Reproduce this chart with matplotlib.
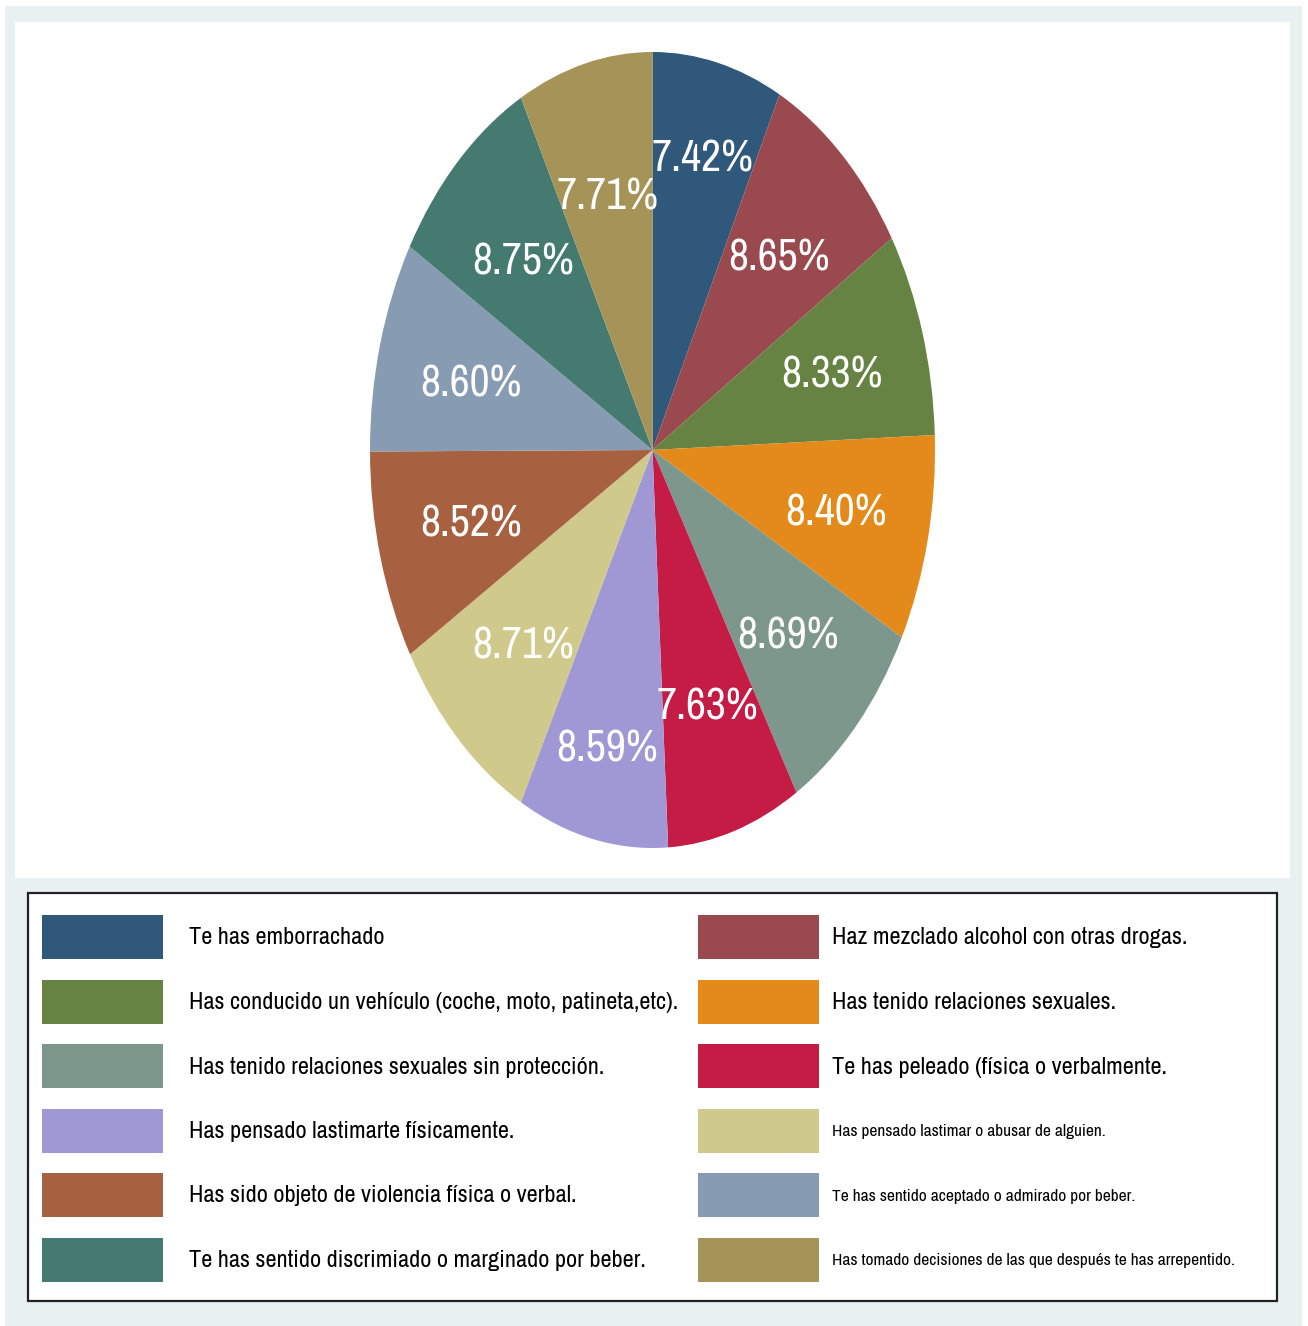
import numpy as np
import matplotlib
matplotlib.use("Agg")
import matplotlib.pyplot as plt
from matplotlib.patches import Rectangle

plt.rcParams['font.family'] = ['Liberation Sans Narrow', 'Archivo Narrow', 'Roboto Condensed',
                               'PT Sans Narrow', 'DejaVu Sans']

labels = [
    "Te has emborrachado",
    "Haz mezclado alcohol con otras drogas.",
    "Has conducido un vehículo (coche, moto, patineta,etc).",
    "Has tenido relaciones sexuales.",
    "Has tenido relaciones sexuales sin protección.",
    "Te has peleado (física o verbalmente.",
    "Has pensado lastimarte físicamente.",
    "Has pensado lastimar o abusar de alguien.",
    "Has sido objeto de violencia física o verbal.",
    "Te has sentido aceptado o admirado por beber.",
    "Te has sentido discrimiado o marginado por beber.",
    "Has tomado decisiones de las que después te has arrepentido.",
]
values = [7.42, 8.65, 8.33, 8.40, 8.69, 7.63, 8.59, 8.71, 8.52, 8.60, 8.75, 7.71]
colors = ["#30587b", "#9a4a4f", "#668343", "#e38a1b", "#7e978c", "#c41c45",
          "#9f98d5", "#cfc98c", "#a86140", "#879cb2", "#447a70", "#a69358"]
# legend text sizes (the original legend has a few labels shrunk)
legend_sizes = [17.5, 17.5, 17.5, 17.5, 17.5, 17.5, 17.5, 12.5, 17.5, 12.5, 17.5, 12.5]

W, H = 1308, 1326
fig = plt.figure(figsize=(W / 100, H / 100), dpi=100)
fig.patch.set_facecolor("white")

# background frame + legend drawn in pixel coordinates
bg = fig.add_axes([0, 0, 1, 1])
bg.set_xlim(0, W)
bg.set_ylim(H, 0)
bg.axis("off")
bg.add_patch(Rectangle((5, 6), 1297, 1320, facecolor="#e8f0f2", edgecolor="none"))
bg.add_patch(Rectangle((15, 22), 1275, 856, facecolor="white", edgecolor="none"))
bg.add_patch(Rectangle((28, 893), 1249, 408, facecolor="white", edgecolor="#222222", linewidth=1.6))

row0, row_step = 937, 64.5
for i, (lab, col, fs) in enumerate(zip(labels, colors, legend_sizes)):
    c, r = i % 2, i // 2
    y = row0 + r * row_step
    sx = 42 if c == 0 else 698
    tx = 189 if c == 0 else 832
    bg.add_patch(Rectangle((sx, y - 22), 121, 44, facecolor=col, edgecolor="none"))
    bg.text(tx, y + 1, lab, fontsize=fs, va="center", ha="left", color="black")

# pie
ax = fig.add_axes([370 / W, (H - 848) / H, 565 / W, 796 / H])
wedges, texts, autotexts = ax.pie(values, colors=colors, startangle=90, counterclock=False,
                                  autopct="%.2f%%", pctdistance=0.665,
                                  wedgeprops=dict(linewidth=0),
                                  textprops=dict(color="white", fontsize=31.5))
for t in autotexts:
    t.set_va("center_baseline")
# two labels pushed outward as in the original
for k in (0, 6):
    w = wedges[k]
    ang = np.deg2rad((w.theta1 + w.theta2) / 2)
    autotexts[k].set_position((0.76 * np.cos(ang), 0.76 * np.sin(ang)))
ax.set_aspect("auto")
ax.set_xlim(-1, 1)
ax.set_ylim(-1, 1)
ax.axis("off")

fig.savefig("out.png", dpi=100)
